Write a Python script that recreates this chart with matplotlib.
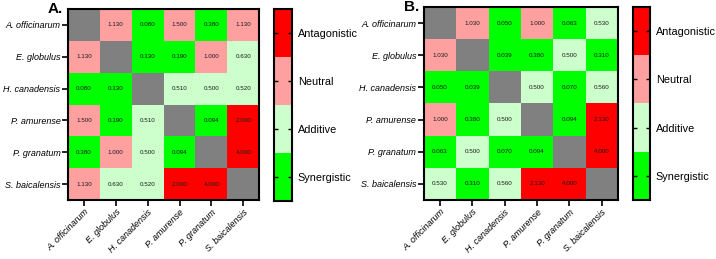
import numpy as np
import matplotlib
matplotlib.use("Agg")
import matplotlib.pyplot as plt
from matplotlib.colors import ListedColormap, BoundaryNorm

plt.rcParams['font.family'] = ['Liberation Sans', 'DejaVu Sans']

# ---- data ----
species = ['A. officinarum', 'E. globulus', 'H. canadensis',
           'P. amurense', 'P. granatum', 'S. baicalensis']

nan = np.nan
fici_a = [[nan, 1.130, 0.080, 1.500, 0.380, 1.130],
          [1.130, nan, 0.130, 0.190, 1.000, 0.630],
          [0.080, 0.130, nan, 0.510, 0.500, 0.520],
          [1.500, 0.190, 0.510, nan, 0.094, 2.000],
          [0.380, 1.000, 0.500, 0.094, nan, 4.000],
          [1.130, 0.630, 0.520, 2.000, 4.000, nan]]

fici_b = [[nan, 1.030, 0.050, 1.000, 0.063, 0.530],
          [1.030, nan, 0.039, 0.380, 0.500, 0.310],
          [0.050, 0.039, nan, 0.500, 0.070, 0.560],
          [1.000, 0.380, 0.500, nan, 0.094, 2.130],
          [0.063, 0.500, 0.070, 0.094, nan, 4.000],
          [0.530, 0.310, 0.560, 2.130, 4.000, nan]]

classes = ['Synergistic', 'Additive', 'Neutral', 'Antagonistic']
cutoffs = [0.5, 1.0, 2.0]  # FICI class limits
class_colors = ['#00ff00', '#ccffcc', '#ffa0a0', '#ff0000']

cmap = ListedColormap(class_colors)
norm = BoundaryNorm(np.arange(len(classes) + 1), cmap.N)


def draw_panel(ax, cax, data, letter):
    data = np.array(data)
    n = len(species)
    # map the FICI value to its class index; diagonal stays empty (grey)
    cls = np.where(np.isnan(data), np.nan,
                   np.digitize(np.nan_to_num(data), cutoffs) + 0.5)
    ax.set_facecolor('#808080')
    ax.pcolormesh(np.arange(n + 1), np.arange(n + 1), cls, cmap=cmap, norm=norm)
    for i in range(n):
        for j in range(n):
            if not np.isnan(data[i, j]):
                ax.text(j + 0.5, i + 0.5, '%.3f' % data[i, j], ha='center',
                        va='center', fontsize=4.5, color='#1a1a1a')
    ax.set_xlim(0, n)
    ax.set_ylim(n, 0)
    ax.set_xticks(np.arange(n) + 0.5)
    ax.set_yticks(np.arange(n) + 0.5)
    ax.set_xticklabels(species, rotation=45, ha='right', rotation_mode='anchor',
                       fontsize=6.5, style='italic')
    ax.set_yticklabels(species, fontsize=6.5, style='italic')
    ax.tick_params(length=4, width=1.2, pad=1.5)
    for s in ax.spines.values():
        s.set_linewidth(1.5)
    ax.text(-0.025, 1.0, letter, transform=ax.transAxes, ha='right',
            va='center', fontsize=11, fontweight='bold')

    # legend bar with the four classes
    k = len(classes)
    cax.pcolormesh([0, 1], np.arange(k + 1), (np.arange(k) + 0.5)[:, None],
                   cmap=cmap, norm=norm)
    cax.set_xlim(0, 1)
    cax.set_ylim(0, k)
    cax.set_xticks([])
    cax.yaxis.tick_right()
    cax.set_yticks(np.arange(k) + 0.5)
    cax.set_yticklabels(classes)
    cax.tick_params(axis='y', labelsize=7.8, length=3, width=1, direction='in',
                    pad=4, left=True, right=True)
    for s in cax.spines.values():
        s.set_linewidth(1.5)


fig = plt.figure(figsize=(7.16, 2.59), dpi=100)
ax_a = fig.add_axes([0.095, 0.228, 0.267, 0.737])
cax_a = fig.add_axes([0.383, 0.224, 0.025, 0.741])
ax_b = fig.add_axes([0.592, 0.228, 0.271, 0.745])
cax_b = fig.add_axes([0.884, 0.228, 0.024, 0.745])

draw_panel(ax_a, cax_a, fici_a, 'A.')
draw_panel(ax_b, cax_b, fici_b, 'B.')

fig.savefig('out.png', dpi=100)
